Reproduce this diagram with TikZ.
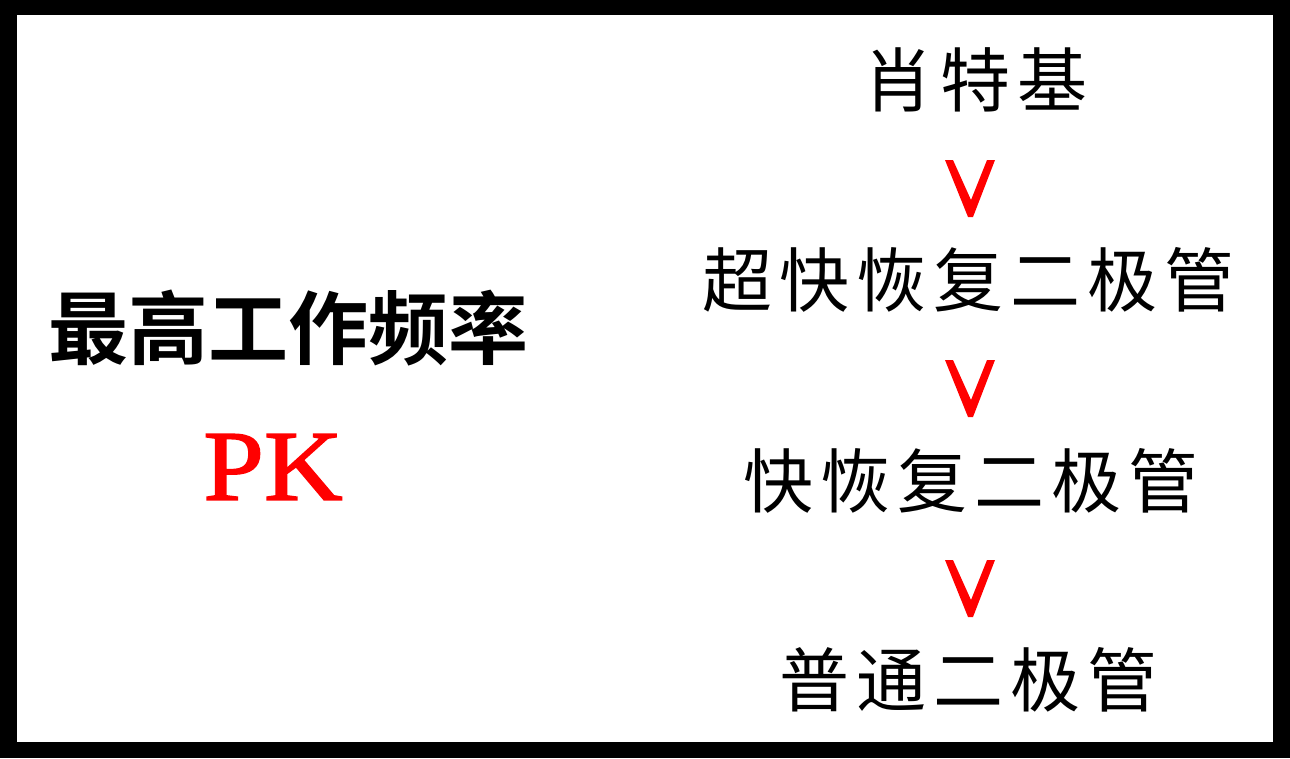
\documentclass[tikz,border=0pt]{standalone}
\usepackage{fontspec}
\setmainfont{Liberation Serif}
\newfontfamily\pkfont[FakeBold=1.6,FakeStretch=1.09]{Liberation Serif}
\newfontfamily\cjksans[BoldFont={Noto Sans CJK SC Bold}]{Noto Sans CJK SC}
\newfontfamily\cjkcol[LetterSpace=10]{Noto Sans CJK SC}
\definecolor{vred}{RGB}{255,0,0}
\begin{document}
\begin{tikzpicture}[x=1pt,y=1pt,
  coltext/.style={inner sep=0pt, anchor=center, font=\cjkcol\fontsize{70}{70}\selectfont},
  vmark/.style={fill=vred, draw=none}]
\useasboundingbox (0,0) rectangle (1290,-758);
\fill[black] (0,0) rectangle (1290,-758);
\fill[white] (17,-15) rectangle (1273,-742);
% left side
\node[inner sep=0pt, font=\cjksans\bfseries\fontsize{80}{80}\selectfont] (title) at (288,-328) {最高工作频率};
\node[inner sep=0pt, text=vred, font=\pkfont\fontsize{100}{100}\selectfont] (pk) at (273,-467) {PK};
% right column
\node[coltext] (n1) at (975,-80) {肖特基};
\node[coltext] (n2) at (968,-280) {超快恢复二极管};
\node[coltext] (n3) at (971,-481) {快恢复二极管};
\node[coltext] (n4) at (968,-680) {普通二极管};
% red V marks
\foreach \t [count=\i] in {160,360,560}{
  \coordinate (v\i) at (970,-\t);
  \fill[vmark] ([xshift=-25]v\i) -- ([xshift=-17]v\i) -- ([xshift=1,yshift=-40]v\i)
     -- ([xshift=17]v\i) -- ([xshift=25]v\i) -- ([xshift=3,yshift=-57]v\i)
     -- ([xshift=-2,yshift=-57]v\i) -- cycle;
}
\end{tikzpicture}
\end{document}
